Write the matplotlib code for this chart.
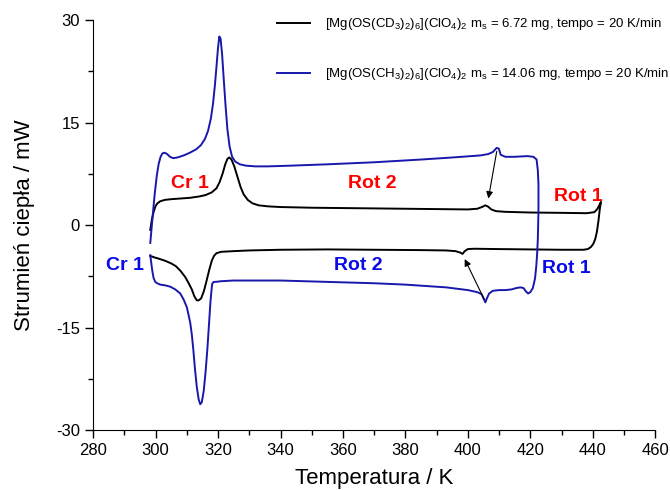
import matplotlib.pyplot as plt
from matplotlib.ticker import MultipleLocator

plt.rcParams['font.family'] = ['Liberation Sans', 'DejaVu Sans']
plt.rcParams['mathtext.fontset'] = 'custom'
plt.rcParams['mathtext.rm'] = 'Liberation Sans'
plt.rcParams['mathtext.it'] = 'Liberation Sans'
plt.rcParams['axes.unicode_minus'] = False

# [Mg(OS(CD3)2)6](ClO4)2 - heating run
d6_heat_T = [298.3, 298.8, 299.4, 300.0, 300.6, 301.5, 303, 305, 308, 311, 314, 316, 318,
             319.5, 320.5, 321.5, 322.3, 323.0, 323.6, 324.3, 325.2, 326.2, 327.2, 328.2,
             329.5, 331, 333, 336, 340, 350, 360, 370, 380, 390, 400, 403, 404.5, 405.6,
             406.5, 407.5, 409, 412, 420, 430, 438, 440.5, 441.5, 442.2, 442.6]
d6_heat_P = [-0.7, 0.8, 2.0, 2.8, 3.2, 3.5, 3.7, 3.8, 3.9, 4.0, 4.2, 4.4, 4.8,
             5.4, 6.3, 7.6, 8.9, 9.7, 9.9, 9.6, 8.6, 7.1, 5.6, 4.5,
             3.7, 3.2, 2.9, 2.75, 2.65, 2.55, 2.5, 2.45, 2.4, 2.35, 2.3, 2.4, 2.65, 2.9,
             2.7, 2.3, 2.05, 1.95, 1.85, 1.8, 1.75, 1.9, 2.4, 3.0, 3.4]

# [Mg(OS(CD3)2)6](ClO4)2 - cooling run
d6_cool_T = [442.6, 442.2, 441.8, 441.3, 440.8, 440.2, 439.4, 438.4, 437, 430, 420, 410,
             402, 400, 399, 398.3, 397.5, 396, 393, 385, 370, 355, 340, 330, 325, 321,
             319.5, 318.7, 318.0, 317.2, 316.4, 315.5, 314.6, 313.8, 313.2, 312.4, 311.6,
             310.6, 309.5, 308, 306.5, 305, 303, 301, 299.5, 298.3]
d6_cool_P = [3.4, 2.2, 0.6, -1.0, -2.0, -2.7, -3.2, -3.5, -3.6, -3.6, -3.55, -3.5,
             -3.45, -3.5, -3.8, -4.2, -4.0, -3.8, -3.7, -3.65, -3.6, -3.55, -3.6, -3.7, -3.8, -3.9,
             -4.1, -4.5, -5.2, -6.5, -8.0, -9.6, -10.7, -11.0, -11.0, -10.4, -9.4,
             -8.5, -7.6, -6.7, -6.0, -5.6, -5.2, -4.9, -4.7, -4.5]

# [Mg(OS(CH3)2)6](ClO4)2 - heating run
h6_heat_T = [298.3, 299.0, 299.7, 300.4, 301.0, 301.6, 302.2, 302.9, 303.7, 304.6, 305.6,
             307, 309, 311, 313, 314.5, 315.8, 316.8, 317.7, 318.4, 319.0, 319.5, 320.0,
             320.4, 320.8, 321.3, 321.8, 322.4, 323.0, 323.7, 324.5, 325.5, 327, 329, 332,
             336, 343, 355, 370, 385, 395, 401, 404, 406.5, 408, 409.2, 409.9, 410.5, 412,
             415, 419, 421, 422]
h6_heat_P = [-2.6, 1.0, 4.5, 7.3, 9.0, 10.0, 10.5, 10.6, 10.4, 10.0, 9.8,
             9.9, 10.2, 10.6, 11.1, 11.7, 12.6, 13.8, 15.6, 17.8, 20.5, 23.2, 26.0,
             27.6, 27.3, 25.0, 21.5, 17.5, 14.0, 11.5, 10.0, 9.3, 8.9, 8.7, 8.6,
             8.6, 8.7, 8.9, 9.2, 9.6, 9.9, 10.1, 10.2, 10.4, 10.7, 11.3, 11.2, 10.3, 10.0,
             10.0, 10.1, 10.0, 9.6]

# [Mg(OS(CH3)2)6](ClO4)2 - cooling run
h6_cool_T = [422, 422.4, 422.6, 422.6, 422.4, 422.2, 421.9, 421.5, 420.8, 420.0, 419.3,
             418.6, 417.8, 416.8, 415.5, 414, 412, 410, 408, 406.8, 406.0, 405.6, 405.1,
             404.4, 403, 400, 393, 380, 370, 355, 340, 330, 325, 321, 319.2, 318.6, 318.1,
             317.6, 317.1, 316.6, 316.0, 315.4, 314.8, 314.3, 313.8, 313.2, 312.6, 312.1,
             311.6, 311.1, 310.5, 310, 309, 307.9, 306.3, 304.7, 303, 301.5, 300.5, 299.9,
             299.4, 299.1, 298.8, 298.5, 298.3]
h6_cool_P = [9.6, 8.0, 6.0, 2.0, -2.0, -4.0, -6.0, -7.8, -9.2, -9.8, -10.0,
             -9.7, -9.2, -9.1, -9.2, -9.4, -9.5, -9.5, -9.6, -10.0, -10.8, -11.3, -10.8,
             -10.1, -9.8, -9.5, -9.1, -8.7, -8.5, -8.3, -8.1, -8.1, -8.1, -8.2, -8.3, -8.3, -8.6,
             -11.0, -14.5, -18.0, -21.5, -24.3, -25.9, -26.2, -25.5, -23.7, -21.0, -18.3,
             -16.0, -14.3, -13.0, -12.0, -10.9, -10.0, -9.4, -9.0, -8.8, -8.7, -8.5, -8.3,
             -7.8, -7.1, -6.2, -5.1, -4.4]

d6_label = r'[Mg(OS(CD$_3$)$_2$)$_6$](ClO$_4$)$_2$ m$_\mathrm{s}$ = 6.72 mg, tempo = 20 K/min'
h6_label = r'[Mg(OS(CH$_3$)$_2$)$_6$](ClO$_4$)$_2$ m$_\mathrm{s}$ = 14.06 mg, tempo = 20 K/min'

black = 'black'
navy = '#1818ac'

fig = plt.figure(figsize=(6.7, 4.9), dpi=100)
ax = fig.add_axes([0.139, 0.122, 0.839, 0.837])

ax.plot(d6_heat_T + d6_cool_T, d6_heat_P + d6_cool_P, color=black, lw=1.4, label=d6_label)
ax.plot(h6_heat_T + h6_cool_T, h6_heat_P + h6_cool_P, color=navy, lw=1.4, label=h6_label)

# phase labels
red = '#ff0000'
blue = '#0a0ae6'
txt = dict(fontsize=14, fontweight='bold', ha='center', va='center')
ax.text(311, 6.1, 'Cr 1', color=red, **txt)
ax.text(369.4, 6.1, 'Rot 2', color=red, **txt)
ax.text(435.3, 4.2, 'Rot 1', color=red, **txt)
ax.text(290.2, -5.9, 'Cr 1', color=blue, **txt)
ax.text(365, -5.9, 'Rot 2', color=blue, **txt)
ax.text(431.5, -6.3, 'Rot 1', color=blue, **txt)

arrow = dict(arrowstyle='-|>', color='black', lw=0.8, mutation_scale=10)
ax.annotate('', xy=(406.4, 3.5), xytext=(409.4, 11.2), arrowprops=arrow)
ax.annotate('', xy=(398.6, -4.6), xytext=(405.6, -11.2), arrowprops=arrow)

ax.set_xlim(280, 460)
ax.set_ylim(-30, 30)
ax.xaxis.set_major_locator(MultipleLocator(20))
ax.xaxis.set_minor_locator(MultipleLocator(10))
ax.yaxis.set_major_locator(MultipleLocator(15))
ax.yaxis.set_minor_locator(MultipleLocator(7.5))
ax.tick_params(which='major', length=6, width=1, labelsize=12)
ax.tick_params(which='minor', length=3.5, width=1)
ax.spines['top'].set_visible(False)
ax.spines['right'].set_visible(False)

ax.set_xlabel('Temperatura / K', fontsize=16, labelpad=7)
ax.set_ylabel('Strumień ciepła / mW', fontsize=16, labelpad=15)

fig.legend(loc='upper right', bbox_to_anchor=(0.999, 0.967), frameon=False, fontsize=9.5,
           handlelength=2.5, handletextpad=1.1, labelspacing=2.6,
           borderpad=0, borderaxespad=0)

plt.savefig('out.png', dpi=100)
